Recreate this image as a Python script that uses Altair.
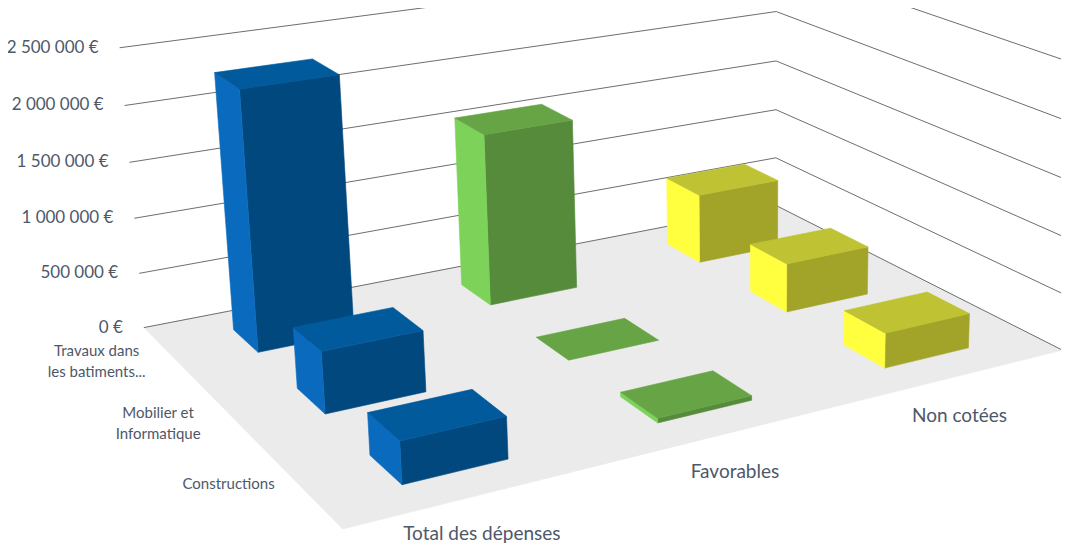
import numpy as np
import pandas as pd
import altair as alt

# ---------------- data ----------------
categories = ["Travaux dans\nles batiments...", "Mobilier et\nInformatique", "Constructions"]
series = ["Total des dépenses", "Favorables", "Non cotées"]
total_depenses = [2300000, 530000, 350000]
favorables = [1580000, 0, 40000]
non_cotees = [660000, 450000, 310000]
tick_values = [0, 500000, 1000000, 1500000, 2000000, 2500000]
tick_labels = ["0 €", "500 000 €", "1 000 000 €", "1 500 000 €", "2 000 000 €", "2 500 000 €"]

# ---------------- styles ----------------
series_colors = {
    "Total des dépenses": {"side": "#0A6BBE", "top": "#005A9C", "front": "#01487E"},
    "Favorables": {"side": "#7DD35A", "top": "#67A446", "front": "#558B3B"},
    "Non cotées": {"side": "#FFFF3F", "top": "#BEC233", "front": "#A1A428"},
}
FLOOR_COLOR = "#EBEBEB"
GRID_COLOR = "#6E6E6E"
TEXT_COLOR = "#4E5869"
FONT = "Lato"
BAR_W = 0.40   # share of a cell along the series axis (gap width 150 %)
BAR_D = 0.40   # share of a cell along the depth axis
PAGE_MARGIN = 8
W, H = 1053, 536

# 3D view: anchors of the plot box (series-axis units, value in M EUR, depth units) -> page pixel
VIEW_ANCHORS = [
    ((0, 0.0, 0), (144, 326)), ((0, 0.5, 0), (139, 273)), ((0, 1.0, 0), (134, 218)),
    ((0, 1.5, 0), (129, 163)), ((0, 2.0, 0), (125, 107)), ((0, 2.5, 0), (120, 47)),
    ((3, 0.0, 0), (776, 207)), ((3, 0.5, 0), (776, 158)), ((3, 1.0, 0), (776, 109)),
    ((3, 1.5, 0), (776, 61)), ((3, 2.0, 0), (776, 11)),
    ((3, 0.0, 3), (1062, 349)), ((3, 0.5, 3), (1065, 295)), ((0, 0.0, 3), (343, 530)),
]


def fit_camera(anchors):
    img = np.array([a[1] for a in anchors], float)
    mu = img.mean(axis=0)
    s = np.sqrt(2) / np.mean(np.linalg.norm(img - mu, axis=1))
    T = np.array([[s, 0, -s * mu[0]], [0, s, -s * mu[1]], [0, 0, 1]])
    rows = []
    for ((X, Y, Z), _), (u, v) in zip(anchors, (img - mu) * s):
        p = [X, Y, Z, 1.0]
        rows.append(p + [0, 0, 0, 0] + [-u * q for q in p])
        rows.append([0, 0, 0, 0] + p + [-v * q for q in p])
    _, _, vt = np.linalg.svd(np.array(rows))
    M = np.linalg.inv(T) @ vt[-1].reshape(3, 4)
    if (M @ np.array([1.5, 0.0, 1.5, 1.0]))[2] < 0:
        M = -M
    return M


CAM = fit_camera(VIEW_ANCHORS)


def project(points):
    pts = np.asarray(points, float)
    q = np.c_[pts, np.ones(len(pts))] @ CAM.T
    return q[:, 0] / q[:, 2] - PAGE_MARGIN, q[:, 1] / q[:, 2] - PAGE_MARGIN, q[:, 2]


def area(poly):
    u, v, _ = project(poly)
    return 0.5 * np.sum(u * np.roll(v, -1) - np.roll(u, -1) * v)


def box_faces(x0, x1, y0, y1, z0, z1):
    return [
        ("front", [(x0, y0, z1), (x1, y0, z1), (x1, y1, z1), (x0, y1, z1)]),
        ("front", [(x1, y0, z0), (x0, y0, z0), (x0, y1, z0), (x1, y1, z0)]),
        ("side", [(x0, y0, z0), (x0, y0, z1), (x0, y1, z1), (x0, y1, z0)]),
        ("side", [(x1, y0, z1), (x1, y0, z0), (x1, y1, z0), (x1, y1, z1)]),
        ("top", [(x0, y1, z1), (x1, y1, z1), (x1, y1, z0), (x0, y1, z0)]),
    ]


REF_SIGN = np.sign(area(box_faces(0, 1, 0, 1, 0, 1)[0][1]))

values = dict(zip(series, [total_depenses, favorables, non_cotees]))
n_s, n_c = len(series), len(categories)

bars = []
for i, s in enumerate(series):
    for j, c in enumerate(categories):
        v = values[s][j] / 1e6
        x0 = i + (1 - BAR_W) / 2
        z0 = j + (1 - BAR_D) / 2
        depth = project([(x0 + BAR_W / 2, v / 2, z0 + BAR_D / 2)])[2][0]
        bars.append(dict(series=s, cat=c, v=v, x0=x0, x1=x0 + BAR_W, z0=z0, z1=z0 + BAR_D, depth=depth))
bars.sort(key=lambda b: -b["depth"])

rows = []
order = 0
face_no = 0
for b in bars:
    for kind, poly in box_faces(b["x0"], b["x1"], 0, b["v"], b["z0"], b["z1"]):
        a = area(poly)
        if a * REF_SIGN <= 1e-6:
            continue
        u, v, _ = project(poly + [poly[0]])
        for k in range(len(u)):
            rows.append(dict(face=f"f{face_no:03d}", order=order, sx=u[k], sy=v[k],
                             fill=series_colors[b["series"]][kind], series=b["series"],
                             category=b["cat"].replace("\n", " "), value=b["v"] * 1e6))
            order += 1
        face_no += 1
faces_df = pd.DataFrame(rows)

# floor
fl = [(0, 0, 0), (n_s, 0, 0), (n_s, 0, n_c), (0, 0, n_c), (0, 0, 0)]
fu, fv, _ = project(fl)
floor_df = pd.DataFrame(dict(sx=fu, sy=fv, order=range(len(fu)), fill=FLOOR_COLOR, face="floor"))

# gridlines on the back and right walls
grows = []
for t in tick_values:
    h = t / 1e6
    gu, gv, _ = project([(0, h, 0), (n_s, h, 0), (n_s, h, n_c)])
    for k in range(3):
        grows.append(dict(tick=t, order=k, sx=gu[k], sy=gv[k]))
grid_df = pd.DataFrame(grows)

# labels
lu, lv, _ = project([(0, t / 1e6, 0) for t in tick_values])
val_lab_df = pd.DataFrame(dict(sx=lu, sy=lv, text=tick_labels))
cu, cv, _ = project([(0, 0, j + 0.5) for j in range(n_c)])
cat_lab_df = pd.DataFrame(dict(sx=cu, sy=cv, text=categories))
su, sv, _ = project([(i + 0.5, 0, n_c) for i in range(n_s)])
ser_lab_df = pd.DataFrame(dict(sx=su, sy=sv, text=series))

X = alt.X("sx:Q", scale=alt.Scale(domain=[0, W], nice=False, zero=False), axis=None)
Y = alt.Y("sy:Q", scale=alt.Scale(domain=[0, H], nice=False, zero=False, reverse=True), axis=None)

floor = alt.Chart(floor_df).mark_line(strokeWidth=0.5).encode(
    x=X, y=Y, order="order:Q",
    fill=alt.Fill("fill:N", scale=None), stroke=alt.Stroke("fill:N", scale=None),
)
grid = alt.Chart(grid_df).mark_line(strokeWidth=1, color=GRID_COLOR).encode(
    x=X, y=Y, order="order:Q", detail="tick:N",
)
boxes = alt.Chart(faces_df).mark_line(strokeWidth=0.6).encode(
    x=X, y=Y, order="order:Q", detail="face:N",
    fill=alt.Fill("fill:N", scale=None), stroke=alt.Stroke("fill:N", scale=None),
)
val_labels = alt.Chart(val_lab_df).mark_text(
    align="right", baseline="middle", dx=-21, font=FONT, fontSize=17, color=TEXT_COLOR
).encode(x=X, y=Y, text="text:N")
cat_labels = alt.Chart(cat_lab_df).mark_text(
    align="center", baseline="middle", dx=-75, dy=-5, font=FONT, fontSize=15, color=TEXT_COLOR,
    lineBreak="\n", lineHeight=21
).encode(x=X, y=Y, text="text:N")
ser_labels = alt.Chart(ser_lab_df).mark_text(
    align="center", baseline="middle", dx=0, dy=40, font=FONT, fontSize=19, color=TEXT_COLOR
).encode(x=X, y=Y, text="text:N")

chart = alt.layer(floor, grid, boxes, val_labels, cat_labels, ser_labels).properties(
    width=W, height=H, padding=0, autosize=alt.AutoSizeParams(type="none")
).configure_view(stroke=None)

chart.save("out.html", embed_options={"renderer": "svg", "actions": False})
